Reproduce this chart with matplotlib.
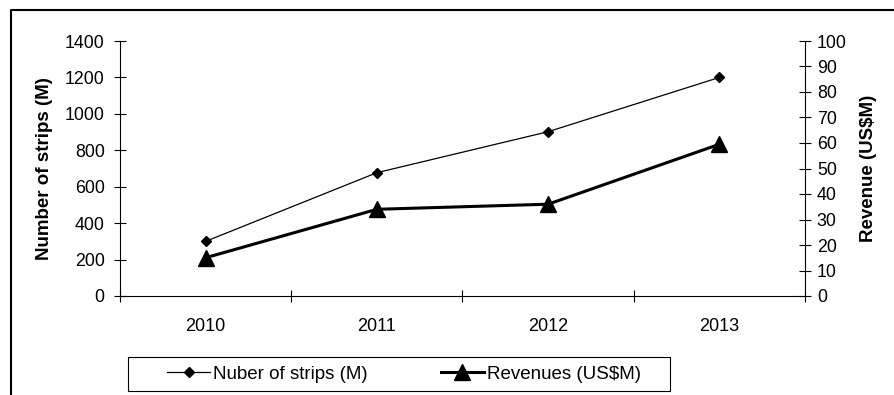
import matplotlib
matplotlib.use("Agg")
import matplotlib.pyplot as plt
from matplotlib.lines import Line2D
from matplotlib.patches import Rectangle
from matplotlib.ticker import FixedLocator, MultipleLocator

plt.rcParams['font.family'] = ['Liberation Sans', 'DejaVu Sans']

# data
years = ['2010', '2011', '2012', '2013']
strips = [300, 677, 902, 1200]       # number of strips (M)
revenues = [15, 34, 36, 59.5]        # revenue (US$M)

W, H = 895, 395
FS = 12.8
fig = plt.figure(figsize=(W / 100, H / 100), dpi=100)
ax = fig.add_axes([120 / W, 99 / H, 685 / W, 255 / H])
ax2 = ax.twinx()

x = list(range(len(years)))
l1, = ax.plot(x, strips, color='black', lw=0.9, marker='D', markersize=5.5,
              label='Nuber of strips (M)')
l2, = ax2.plot(x, revenues, color='black', lw=2.2, marker='^', markersize=12,
               label='Revenues (US$M)')

ax.set_xlim(-0.5, len(years) - 0.5)
ax.set_ylim(0, 1400)
ax2.set_ylim(0, 100)
ax.yaxis.set_major_locator(MultipleLocator(200))
ax2.yaxis.set_major_locator(MultipleLocator(10))

# category labels in the middle, tick marks on the boundaries
ax.xaxis.set_major_locator(FixedLocator(x))
ax.set_xticklabels(years)
ax.xaxis.set_minor_locator(FixedLocator([i - 0.5 for i in range(len(years) + 1)]))
ax.tick_params(axis='x', which='major', length=0, pad=16, labelsize=13)
ax.tick_params(axis='x', which='minor', direction='inout', length=9, width=0.8)
ax.tick_params(axis='y', direction='inout', length=9, width=0.8, pad=6.5, labelsize=FS)
ax2.tick_params(axis='y', direction='inout', length=9, width=0.8, pad=4, labelsize=FS)

for a in (ax, ax2):
    a.spines['top'].set_visible(False)
    for s in a.spines.values():
        s.set_linewidth(0.8)
ax.spines['right'].set_visible(False)
ax2.spines['left'].set_visible(False)
ax2.spines['bottom'].set_visible(False)

ax.set_ylabel('Number of strips (M)', fontsize=13.5, fontweight='bold')
ax.yaxis.set_label_coords((53 - 120) / 685, 0.5)
ax2.set_ylabel('Revenue (US$M)', fontsize=13.5, fontweight='bold', rotation=90)
ax2.yaxis.set_label_coords((860 - 120) / 685, 0.5)

# legend box drawn separately, entries placed inside it
fig.add_artist(Rectangle((128 / W, 4 / H), 542 / W, 34 / H, transform=fig.transFigure,
                         facecolor='white', edgecolor='black', lw=0.8))
fig.legend(handles=[l1, l2], loc='center left', ncol=2,
           bbox_to_anchor=(167 / W, 21 / H), frameon=False,
           fontsize=13.5, handlelength=2.3, handletextpad=0.15, columnspacing=3.9,
           borderpad=0, borderaxespad=0)

# outer chart border (left and top edges visible)
fig.add_artist(Line2D([11 / W, 11 / W, 1], [0, 1 - 10 / H, 1 - 10 / H],
                      transform=fig.transFigure, color='black', lw=1.5))

fig.savefig('out.png', dpi=100)
